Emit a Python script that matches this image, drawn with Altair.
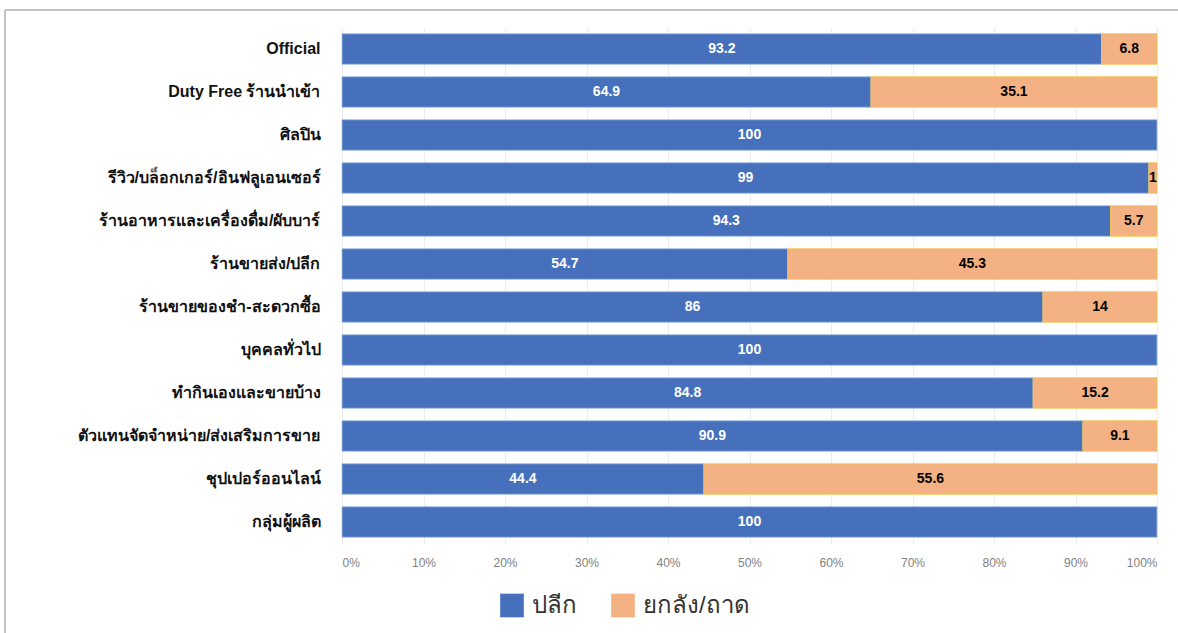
import altair as alt
import pandas as pd

categories = [
    "Official",
    "Duty Free ร้านนำเข้า",
    "ศิลปิน",
    "รีวิว/บล็อกเกอร์/อินฟลูเอนเซอร์",
    "ร้านอาหารและเครื่องดื่ม/ผับบาร์",
    "ร้านขายส่ง/ปลีก",
    "ร้านขายของชำ-สะดวกซื้อ",
    "บุคคลทั่วไป",
    "ทำกินเองและขายบ้าง",
    "ตัวแทนจัดจำหน่าย/ส่งเสริมการขาย",
    "ชุปเปอร์ออนไลน์",
    "กลุ่มผู้ผลิต",
]
retail = [93.2, 64.9, 100, 99, 94.3, 54.7, 86, 100, 84.8, 90.9, 44.4, 100]
wholesale = [6.8, 35.1, 0, 1, 5.7, 45.3, 14, 0, 15.2, 9.1, 55.6, 0]
series = ["ปลีก", "ยกลัง/ถาด"]
colors = ["#4670BC", "#F4B183"]
text_colors = ["white", "black"]
x_ticks = [0, 10, 20, 30, 40, 50, 60, 70, 80, 90, 100]

rows = []
for i, c in enumerate(categories):
    start = 0
    for s, vals, tc in zip(series, [retail, wholesale], text_colors):
        v = vals[i]
        if v > 0:
            rows.append({
                "cat": c, "series": s, "value": v,
                "start": start, "end": start + v, "mid": start + v / 2,
                "label": "%g" % v, "tc": tc,
            })
        start += v
df = pd.DataFrame(rows)

y_enc = alt.Y("cat:N", sort=categories, title=None,
              scale=alt.Scale(paddingInner=0.29, paddingOuter=0.145),
              axis=alt.Axis(labelFontSize=16, labelFontWeight="bold", labelColor="#111111",
                            labelFont="Liberation Sans", labelPadding=22, ticks=False,
                            domain=False, labelLimit=400))

bars = alt.Chart(df).mark_bar(strokeWidth=0.8).encode(
    y=y_enc,
    x=alt.X("start:Q", scale=alt.Scale(domain=[0, 100], nice=False),
            axis=alt.Axis(values=x_ticks, labelExpr="datum.value + '%'", title=None,
                          labelColor="#7f7f7f", labelFontSize=12, labelPadding=14,
                          ticks=False, domain=False, grid=True, gridColor="#ececec",
                          labelFont="Liberation Sans")),
    x2="end:Q",
    color=alt.Color("series:N", sort=series,
                    scale=alt.Scale(domain=series, range=colors),
                    legend=alt.Legend(title=None, orient="none", direction="horizontal",
                                      legendX=158, legendY=566, symbolType="square",
                                      symbolSize=560, symbolStrokeWidth=0,
                                      labelFontSize=24, labelColor="#333333",
                                      columnPadding=34, symbolOffset=0, labelOffset=8)),
    stroke=alt.Stroke("series:N", scale=alt.Scale(domain=series, range=["#9fc0e8", "#f5c542"]),
                      legend=None),
)

labels = alt.Chart(df).mark_text(fontSize=14, fontWeight="bold", font="Liberation Sans").encode(
    y=alt.Y("cat:N", sort=categories),
    x=alt.X("mid:Q"),
    text="label:N",
    color=alt.Color("tc:N", scale=None, legend=None),
)

frame = alt.Chart(pd.DataFrame({"a": [0]})).mark_rect(fill=None, stroke="#8a8a8a", strokeWidth=1).encode(
    x=alt.value(-337), x2=alt.value(900), y=alt.value(-17.5), y2=alt.value(700)
)

chart = alt.layer(frame, bars, labels).properties(
    width=815, height=516,
    autosize=alt.AutoSizeParams(type="none"),
    padding={"left": 342, "top": 27.5, "right": 21, "bottom": 89.5},
).configure_view(stroke=None)

chart.save("out.html", embed_options={"renderer": "svg", "actions": False})
